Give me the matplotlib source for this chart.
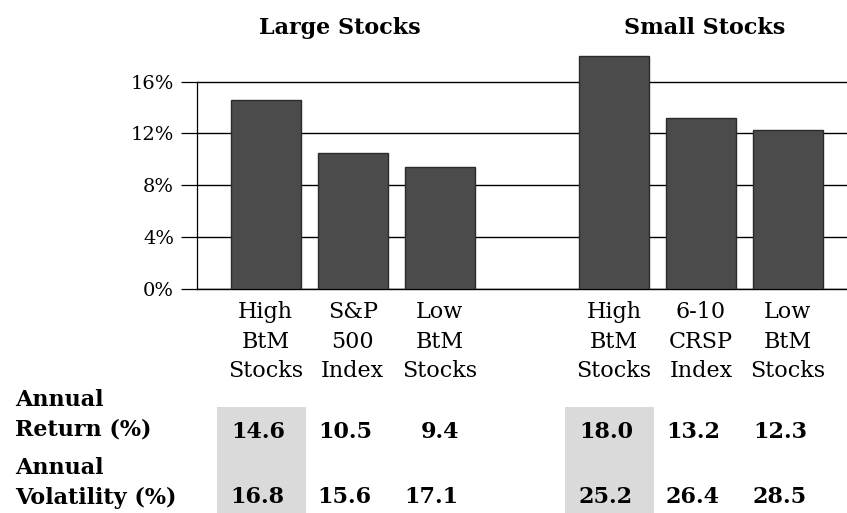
import matplotlib.pyplot as plt
from matplotlib.patches import Rectangle
from matplotlib.transforms import blended_transform_factory

plt.rcParams['font.family'] = ['DejaVu Serif']

# Portfolio groups and their columns
groups = ['Large Stocks', 'Small Stocks']
categories = ['High\nBtM\nStocks', 'S&P\n500\nIndex', 'Low\nBtM\nStocks',
              'High\nBtM\nStocks', '6-10\nCRSP\nIndex', 'Low\nBtM\nStocks']
annual_return = [14.6, 10.5, 9.4, 18.0, 13.2, 12.3]
annual_volatility = [16.8, 15.6, 17.1, 25.2, 26.4, 28.5]
row_labels = ['Annual\nReturn (%)', 'Annual\nVolatility (%)']
y_ticks = [0, 4, 8, 12, 16]

positions = [0, 1, 2, 4, 5, 6]
W, H = 847, 513

fig = plt.figure(figsize=(W / 100, H / 100), dpi=100)
ax = fig.add_axes([197 / W, 1 - 288.5 / H, 1 - 197 / W, (288.5 - 49.5) / H])

ax.bar(positions, annual_return, width=0.8, color='#4b4b4b',
       edgecolor='#2b2b2b', linewidth=1.0, zorder=3)

ax.set_xlim(-0.79, 6.68)
ax.set_ylim(0, 18.5)
ax.set_yticks(y_ticks)
ax.set_yticklabels(['%d%%' % t for t in y_ticks], fontsize=14)
ax.yaxis.grid(True, color='black', linewidth=1.0, zorder=1)
ax.set_axisbelow(True)
ax.tick_params(axis='y', direction='out', length=11.5, width=0.9, pad=5)
ax.tick_params(axis='x', length=0, pad=9)
ax.set_xticks(positions)
ax.set_xticklabels(categories, fontsize=16, linespacing=1.45)

for side in ['top', 'right']:
    ax.spines[side].set_visible(False)
ax.spines['left'].set_bounds(0, 16)
ax.spines['left'].set_linewidth(0.9)
ax.spines['bottom'].set_linewidth(1.0)

# Group headings
fig.text(340 / W, 1 - 28 / H, groups[0], ha='center', va='center',
         fontsize=16, fontweight='bold')
fig.text(705 / W, 1 - 28 / H, groups[1], ha='center', va='center',
         fontsize=16, fontweight='bold')

# Table under the chart: x follows the bars, y in figure coordinates
trans = blended_transform_factory(ax.transData, fig.transFigure)
for p in (positions[0], positions[3]):
    ax.add_patch(Rectangle((p - 0.56, 0), 1.02, 1 - 407 / H, transform=trans,
                           facecolor='#dadada', edgecolor='none',
                           clip_on=False, zorder=0))

row_y = [432, 497]
label_y = [415, 483]
for label, ly in zip(row_labels, label_y):
    fig.text(15 / W, 1 - ly / H, label, ha='left', va='center',
             fontsize=16, fontweight='bold', linespacing=1.42)

for values, ry in zip([annual_return, annual_volatility], row_y):
    for p, v in zip(positions, values):
        ax.text(p + 0.22, 1 - ry / H, '%.1f' % v, transform=trans,
                ha='right', va='center', fontsize=16, fontweight='bold',
                clip_on=False)

fig.savefig('out.png', dpi=100)
